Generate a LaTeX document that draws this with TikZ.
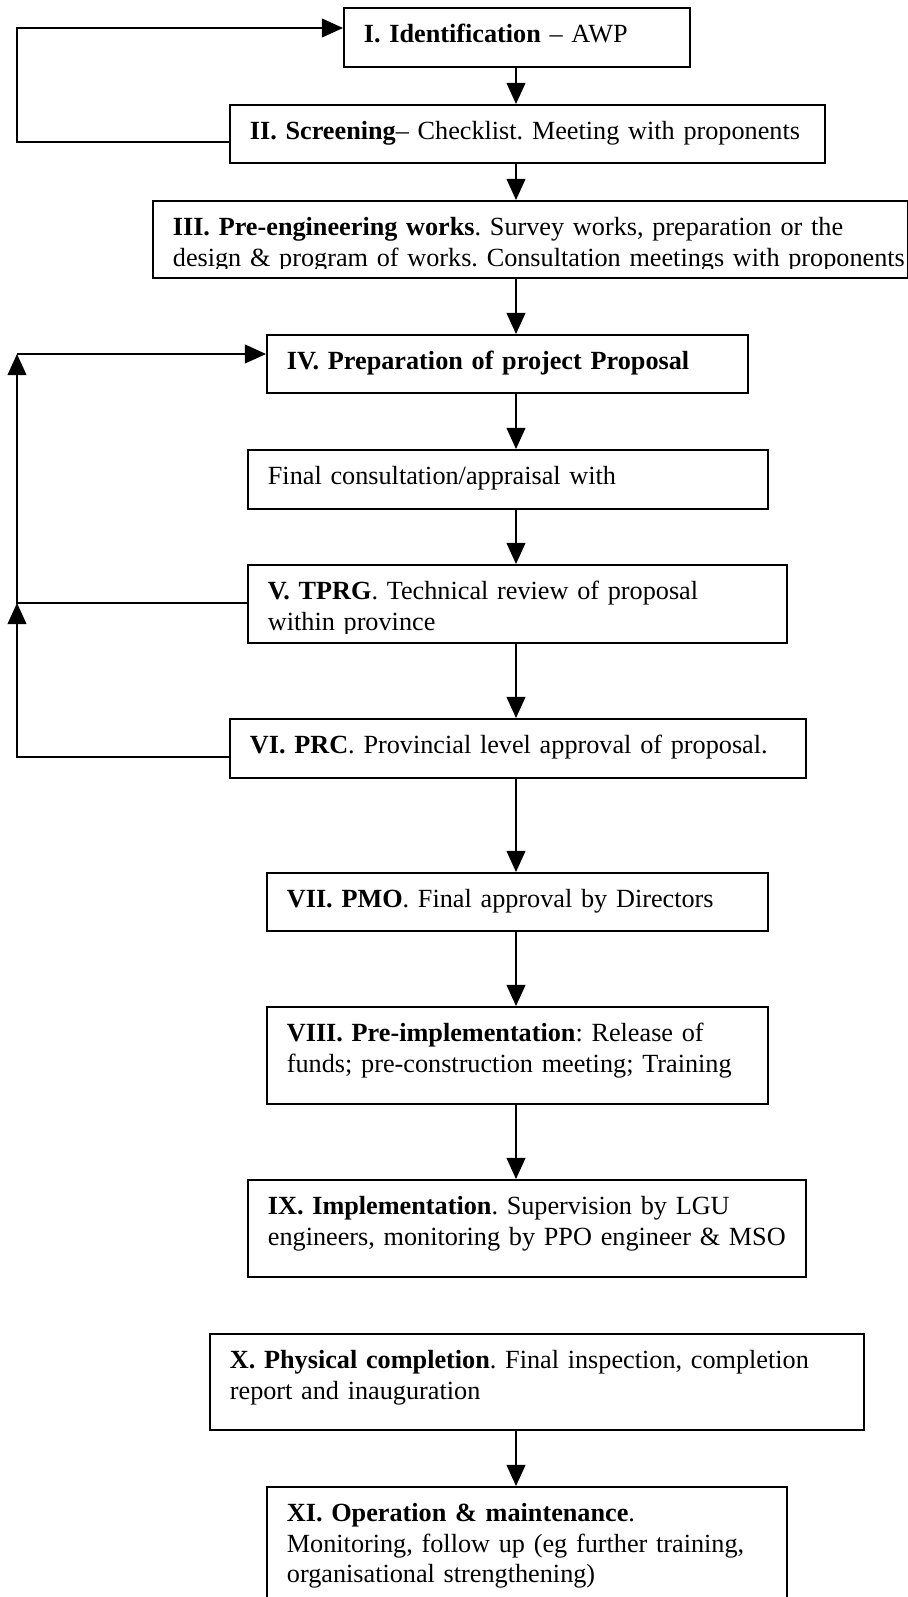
\documentclass[tikz,border=0pt]{standalone}
\usepackage{fontspec}
\setmainfont{Liberation Serif}
\usetikzlibrary{arrows.meta}

\begin{document}
\begin{tikzpicture}[x=0.45pt, y=-0.45pt, >={Triangle[length=9.5pt,width=8.5pt]}]
  \tikzset{box/.style 2 args={draw, line width=0.8pt, anchor=north west,
      inner sep=0pt, align=left,
      font=\fontsize{11.8pt}{13.8pt}\selectfont\frenchspacing,
      execute at begin node={\leftskip=9pt\hyphenpenalty=10000},
      text width=#1, text height=15.5pt, text depth=#2}}
  \tikzstyle{link}=[->, line width=0.6pt]

  \useasboundingbox (0,0) rectangle (908,1597);

  \node[box={155.7pt}{11.05pt}]  (I)    at (343, 7)    {\textbf{I. Identification} -- AWP};
  \node[box={267.75pt}{10.6pt}]  (II)   at (229, 104)  {\textbf{II. Screening}-- Checklist. Meeting with proponents};
  \node[box={339.75pt}{19.15pt}] (III)  at (152, 200)  {\textbf{III. Pre-engineering works}. Survey works, preparation or the\\
                                                        design \& program of works. Consultation meetings with~proponents};
  \node[box={216.45pt}{10.6pt}]  (IV)   at (266, 334)  {\textbf{IV. Preparation of project Proposal}};
  \node[box={234pt}{11.05pt}]    (fin)  at (247, 449)  {Final consultation/appraisal with};
  \node[box={242.55pt}{19.6pt}]  (V)    at (247, 564)  {\textbf{V. TPRG}. Technical review of proposal\\ within province};
  \node[box={259.2pt}{11.05pt}]  (VI)   at (229, 718)  {\textbf{VI. PRC}. Provincial level approval of proposal.};
  \node[box={225.45pt}{10.6pt}]  (VII)  at (266, 872)  {\textbf{VII. PMO}. Final approval by Directors};
  \node[box={225.45pt}{28.15pt}] (VIII) at (266, 1006) {\textbf{VIII. Pre-implementation}: Release of\\
                                                        funds; pre-construction meeting; Training};
  \node[box={251.1pt}{28.15pt}]  (IX)   at (247, 1179) {\textbf{IX. Implementation}. Supervision by LGU\\
                                                        engineers, monitoring by PPO engineer \& MSO};
  \node[box={294.3pt}{27.7pt}]   (X)    at (209, 1333) {\textbf{X. Physical completion}. Final inspection, completion\\
                                                        report and inauguration};
  \node[box={234pt}{43pt}]       (XI)   at (266, 1486) {\textbf{XI. Operation \& maintenance}.\\
                                                        Monitoring, follow up (eg further training,\\
                                                        organisational strengthening)};

  % text cut off at the bottom of these two boxes
  \fill[white] ([xshift=1pt,yshift=0.6pt]III.south west) rectangle ([xshift=-1pt,yshift=4.5pt]III.south east);
  \fill[white] ([xshift=1pt,yshift=0.6pt]V.south west) rectangle ([xshift=-1pt,yshift=4.5pt]V.south east);

  \coordinate (ax)  at (516, 0);
  \coordinate (lp1) at (17, 28);
  \coordinate (lp2) at (17, 142);
  \coordinate (lp3) at (17, 354);
  \coordinate (lp4) at (17, 603);
  \coordinate (lp5) at (17, 757);

  \draw[link] (I.south -| ax)    -- (II.north -| ax);
  \draw[link] (II.south -| ax)   -- (III.north -| ax);
  \draw[link] (III.south -| ax)  -- (IV.north -| ax);
  \draw[link] (IV.south -| ax)   -- (fin.north -| ax);
  \draw[link] (fin.south -| ax)  -- (V.north -| ax);
  \draw[link] (V.south -| ax)    -- (VI.north -| ax);
  \draw[link] (VI.south -| ax)   -- (VII.north -| ax);
  \draw[link] (VII.south -| ax)  -- (VIII.north -| ax);
  \draw[link] (VIII.south -| ax) -- (IX.north -| ax);
  \draw[link] (X.south -| ax)    -- (XI.north -| ax);

  \draw[link] (II.west |- lp2) -- (lp2) -- (lp1) -- (I.west |- lp1);
  \draw[link] (V.west |- lp4) -- (lp4) -- (lp3);
  \draw[link] (lp3) -- (IV.west |- lp3);
  \draw[link] (VI.west |- lp5) -- (lp5) -- (lp4);

\end{tikzpicture}
\end{document}
